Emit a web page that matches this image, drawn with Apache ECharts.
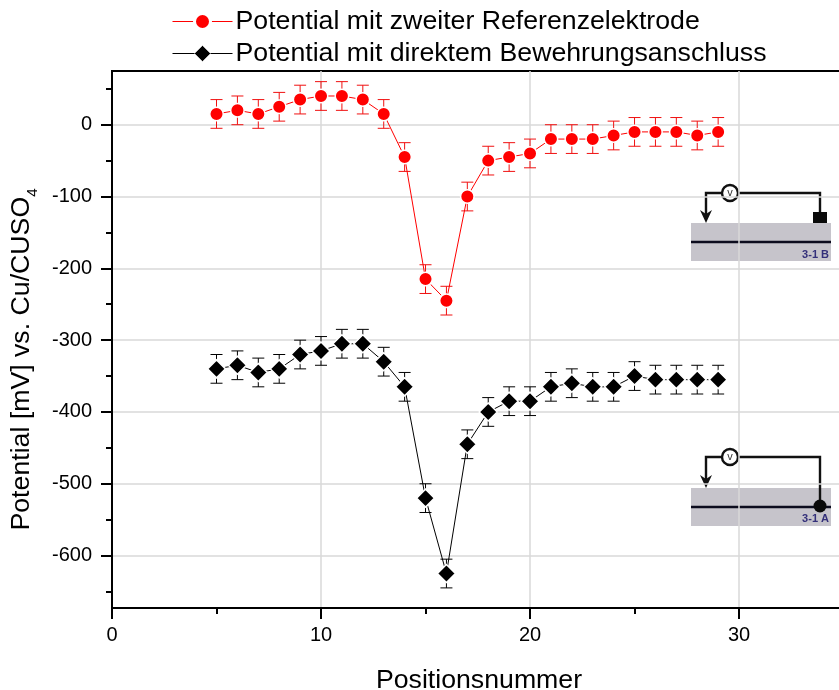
<!DOCTYPE html>
<html><head><meta charset="utf-8">
<style>html,body{margin:0;padding:0;background:#fff}#c{width:839px;height:690px}</style>
<script src="https://cdn.jsdelivr.net/npm/echarts@6/dist/echarts.min.js"></script></head>
<body><div id="c"></div>
<script>
const positions=[5,6,7,8,9,10,11,12,13,14,15,16,17,18,19,20,21,22,23,24,25,26,27,28,29];
const redValues=[15,20,15,25,35,40,40,35,15,-45,-215,-245,-100,-50,-45,-40,-20,-20,-20,-15,-10,-10,-10,-15,-10];
const blackValues=[-340,-335,-345,-340,-320,-315,-305,-305,-330,-365,-520,-625,-445,-400,-385,-385,-365,-360,-365,-365,-350,-355,-355,-355,-355];
const redErrors=[20,20,20,20,20,20,20,20,20,20,20,20,20,20,20,20,20,20,20,20,20,20,20,20,20];
const blackErrors=[20,20,20,20,20,20,20,20,20,20,20,20,20,20,20,20,20,20,20,20,20,20,20,20,20];
const xMajor=[0,10,20,30], xMinor=[5,15,25];
const yMajor=[-600,-500,-400,-300,-200,-100,0];
const yMinor=[-650,-550,-450,-350,-250,-150,-50,50];
const redName='Potential mit zweiter Referenzelektrode';
const blackName='Potential mit direktem Bewehrungsanschluss';
const xMax=34.83, yMin=-673, yMax=74.8;
const font='"Liberation Sans",Arial,sans-serif';

function errSeries(name,vals,errs,color){
  return {name:name+' Fehler',type:'custom',z:2,silent:true,
    data:positions.map((p,i)=>[p,vals[i]-errs[i],vals[i]+errs[i]]),
    encode:{x:0,y:[1,2]},
    renderItem(params,api){
      const a=api.coord([api.value(0),api.value(1)]), b=api.coord([api.value(0),api.value(2)]);
      const st={stroke:color,lineWidth:1,fill:null}, w=6;
      return {type:'group',children:[
        {type:'line',shape:{x1:a[0],y1:a[1],x2:b[0],y2:b[1]},style:st},
        {type:'line',shape:{x1:a[0]-w,y1:a[1],x2:a[0]+w,y2:a[1]},style:st},
        {type:'line',shape:{x1:b[0]-w,y1:b[1],x2:b[0]+w,y2:b[1]},style:st}]};
    }};
}
function lineSeries(name,vals,color,symbol,size){
  return {name,type:'line',z:3,data:positions.map((p,i)=>[p,vals[i]]),symbol,symbolSize:size,
    lineStyle:{color,width:1},
    itemStyle:{color,borderColor:'#fff',borderWidth:1.5},emphasis:{disabled:true}};
}
function inset(top,boxTop,wireY,lineY,label,labelY,wireEnd,endMark){
  const stroke={stroke:'#111',lineWidth:2.4,fill:null};
  return [
   {type:'rect',shape:{x:691,y:top,width:140,height:boxTop-top},style:{fill:'#fff'}},
   {type:'rect',shape:{x:691,y:boxTop,width:140,height:38},style:{fill:'#c6c4cb'}},
   {type:'line',shape:{x1:691,y1:lineY,x2:831,y2:lineY},style:{stroke:'#0c0c1e',lineWidth:2.4}},
   {type:'polyline',shape:{points:[[706,boxTop-6],[706,wireY],[820,wireY],[820,wireEnd]]},style:stroke},
   {type:'polygon',shape:{points:[[700,boxTop-13],[706,boxTop-9],[712,boxTop-13],[706,boxTop]]},style:{fill:'#111'}},
   {type:'circle',shape:{cx:730,cy:wireY,r:8},style:{fill:'#fff',stroke:'#111',lineWidth:2.4}},
   {type:'text',style:{x:730,y:wireY,text:'v',font:'11px '+font,fill:'#333',align:'center',verticalAlign:'middle'}},
   endMark,
   {type:'text',style:{x:829,y:labelY,text:label,font:'bold 11px '+font,fill:'#34307a',align:'right',verticalAlign:'middle'}}
  ];
}
const chart=echarts.init(document.getElementById('c'),null,{renderer:'canvas'});
const axLine={show:true,onZero:false,lineStyle:{color:'#000',width:2}};
chart.setOption({
  animation:false,backgroundColor:'#fff',
  textStyle:{fontFamily:font},
  legend:{orient:'vertical',left:167,top:3,itemWidth:60,itemHeight:20,itemGap:5,symbolSize:15,
    lineStyle:{width:1},
    textStyle:{fontSize:26.7,color:'#000',fontFamily:font,padding:[0,0,0,-2]},
    data:[{name:redName,itemStyle:{borderWidth:3}},{name:blackName,itemStyle:{borderWidth:0.5}}]},
  grid:{left:112,top:71,width:728,height:537,outerBoundsMode:'none',show:true,borderColor:'#000',borderWidth:2,backgroundColor:'transparent'},
  xAxis:[
   {type:'value',min:0,max:xMax,name:'Positionsnummer',nameLocation:'middle',nameGap:59,
    nameTextStyle:{fontSize:26.7,color:'#000',fontFamily:font,padding:[0,0,0,6]},
    axisLine:axLine,axisTick:{show:true,length:11,inside:false,customValues:xMajor,lineStyle:{color:'#000',width:2}},
    axisLabel:{customValues:xMajor,fontSize:20,color:'#000',margin:17,fontFamily:font},
    splitLine:{show:true,lineStyle:{color:'#d8d8d8',width:1.5}}},
   {type:'value',min:0,max:xMax,position:'bottom',axisLine:{show:false,onZero:false},
    axisTick:{show:true,length:6,customValues:xMinor,lineStyle:{color:'#000',width:2}},
    axisLabel:{show:false},splitLine:{show:false}}
  ],
  yAxis:[
   {type:'value',min:yMin,max:yMax,
    name:'Potential [mV] vs. Cu/CUSO{s|4}',nameLocation:'middle',nameGap:72,nameRotate:90,
    nameTextStyle:{fontSize:26.7,color:'#000',fontFamily:font,padding:[0,0,0,-40],
      rich:{s:{fontSize:15,color:'#000',fontFamily:font,verticalAlign:'bottom',padding:[22,0,0,0]}}},
    axisLine:axLine,axisTick:{show:true,length:11,customValues:yMajor,lineStyle:{color:'#000',width:2}},
    axisLabel:{customValues:yMajor,fontSize:20,color:'#000',margin:20,fontFamily:font},
    splitLine:{show:true,lineStyle:{color:'#d8d8d8',width:1.5}}},
   {type:'value',min:yMin,max:yMax,position:'left',axisLine:{show:false,onZero:false},
    axisTick:{show:true,length:6,customValues:yMinor,lineStyle:{color:'#000',width:2}},
    axisLabel:{show:false},splitLine:{show:false}}
  ],
  series:[
    errSeries('rot',redValues,redErrors,'#f01010'),
    errSeries('schwarz',blackValues,blackErrors,'#000'),
    lineSeries(redName,redValues,'#ff0000','circle',13.5),
    lineSeries(blackName,blackValues,'#000','diamond',18)
  ],
  graphic:{elements:[
    ...inset(183,223,193,242,'3-1 B',255,212,{type:'rect',shape:{x:813,y:212,width:14,height:11},style:{fill:'#0a0a0a'}}),
    ...inset(448,488,457,507,'3-1 A',519,506,{type:'circle',shape:{cx:820,cy:506,r:6.5},style:{fill:'#0a0a0a'}})
  ]}
});
</script></body></html>
